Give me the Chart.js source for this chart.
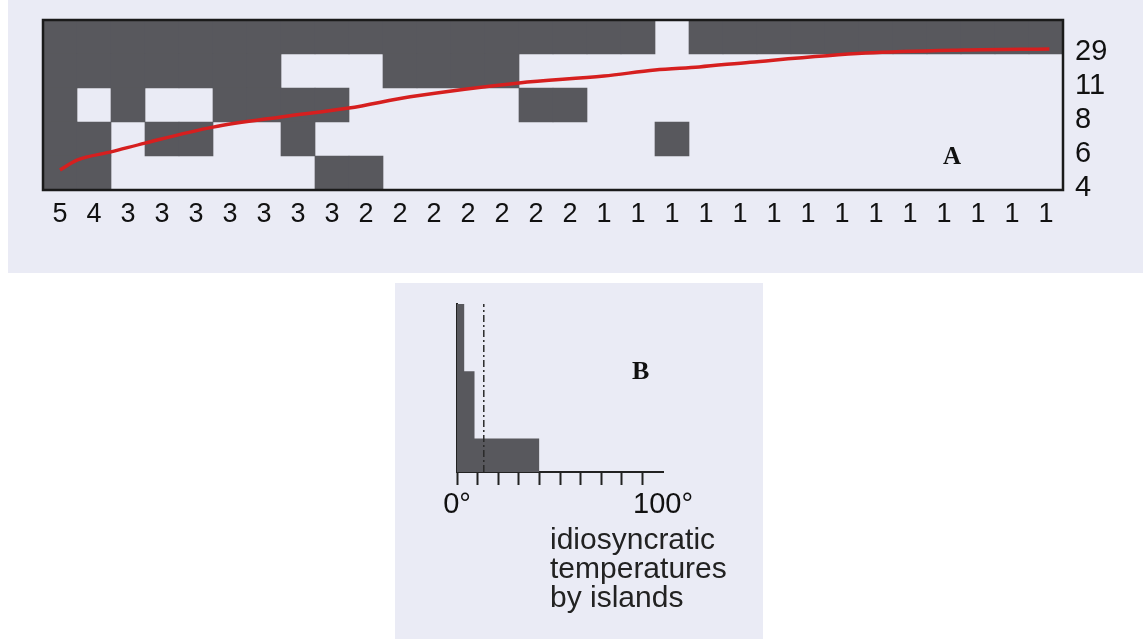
<!DOCTYPE html>
<html>
<head>
<meta charset="utf-8">
<script src="https://cdn.jsdelivr.net/npm/chart.js@4.4.1/dist/chart.umd.min.js"></script>
<style>
  body { margin: 0; background: #fff; width: 1143px; height: 639px; overflow: hidden; position: relative; font-family: "Liberation Sans", Arial, sans-serif; }
  #panelA { position: absolute; left: 8px; top: 0; width: 1135px; height: 273px; background: #eaebf5; }
  #panelB { position: absolute; left: 395px; top: 283px; width: 368px; height: 356px; background: #eaebf5; }
  canvas { position: absolute; left: 0; top: 0; }
  .tag { position: absolute; font: bold 25px "Liberation Serif", "Times New Roman", serif; line-height: 1; color: #111; }
  .caption { position: absolute; left: 155px; top: 241px; font-size: 30px; line-height: 29px; color: #222; }
</style>
</head>
<body>
<div id="panelA">
  <canvas id="chartA" width="1135" height="273"></canvas>
  <div class="tag" style="left:935px; top:143px;">A</div>
</div>
<div id="panelB">
  <canvas id="chartB" width="368" height="356"></canvas>
  <div class="tag" style="left:237px; top:75px; font-size:26px;">B</div>
  <div class="caption">idiosyncratic<br>temperatures<br>by islands</div>
</div>
<script>
// island columns: number of species on each island (bottom labels)
var colTotals = [5, 4, 3, 3, 3, 3, 3, 3, 3, 2, 2, 2, 2, 2, 2, 2, 1, 1, 1, 1, 1, 1, 1, 1, 1, 1, 1, 1, 1, 1];
// species rows, bottom to top: number of islands occupied (right labels)
var rowTotals = ['4', '6', '8', '11', '29'];

// presence (1) / absence (0) per island
var row29 = [1,1,1,1,1,1,1,1,1,1,1,1,1,1,1,1,1,1,0,1,1,1,1,1,1,1,1,1,1,1];
var row11 = [1,1,1,1,1,1,1,0,0,0,1,1,1,1,0,0,0,0,0,0,0,0,0,0,0,0,0,0,0,0];
var row8  = [1,0,1,0,0,1,1,1,1,0,0,0,0,0,1,1,0,0,0,0,0,0,0,0,0,0,0,0,0,0];
var row6  = [1,1,0,1,1,0,0,1,0,0,0,0,0,0,0,0,0,0,1,0,0,0,0,0,0,0,0,0,0,0];
var row4  = [1,1,0,0,0,0,0,0,1,1,0,0,0,0,0,0,0,0,0,0,0,0,0,0,0,0,0,0,0,0];
var rows = [row4, row6, row8, row11, row29];

// isocline (red curve), in column / row units
var isoX = [0.5, 1.0, 2.0, 3.0, 5.0, 7.0, 9.0, 10.8, 14.0, 16.5, 18.0, 19.3, 20.8, 24.2, 27.1, 29.6];
var isoY = [0.59, 0.88, 1.12, 1.38, 1.85, 2.15, 2.41, 2.74, 3.15, 3.35, 3.53, 3.62, 3.76, 4.03, 4.12, 4.15];

// panel B histogram
var binEdges = [0, 3.5, 8.5, 40];
var binCounts = [5, 3, 1];
var meanTemp = 13;
var tempTicks = ['0°', '', '', '', '', '', '', '', '', '', '100°'];

var cellColor = '#58585d';

var frame = {
  id: 'frame',
  afterDatasetsDraw: function (chart) {
    var a = chart.chartArea, c = chart.ctx;
    c.save();
    c.strokeStyle = '#1a1a1a';
    c.lineWidth = 2.5;
    c.strokeRect(a.left, a.top, a.right - a.left, a.bottom - a.top);
    c.restore();
  }
};

var cellSets = rows.map(function (r, i) {
  return {
    data: r.map(function (v) { return v ? [i, i + 1] : null; }),
    backgroundColor: cellColor,
    borderWidth: 0,
    barPercentage: 1,
    categoryPercentage: 1,
    grouped: false
  };
});

new Chart(document.getElementById('chartA'), {
  type: 'bar',
  data: {
    labels: colTotals.map(String),
    datasets: [{
      type: 'line',
      xAxisID: 'xl',
      yAxisID: 'y',
      data: isoX.map(function (x, i) { return { x: x, y: isoY[i] }; }),
      borderColor: '#d61f1f',
      borderWidth: 3.5,
      pointRadius: 0,
      cubicInterpolationMode: 'monotone',
      fill: false
    }].concat(cellSets)
  },
  options: {
    responsive: false,
    animation: false,
    devicePixelRatio: 1,
    layout: { padding: { left: 35, top: 20, right: 0, bottom: 0 } },
    plugins: { legend: { display: false }, tooltip: { enabled: false } },
    scales: {
      x: {
        position: 'bottom',
        grid: { display: false, drawTicks: false },
        border: { display: false },
        ticks: { color: '#111', font: { family: 'Liberation Sans', size: 27 }, padding: 8, autoSkip: false, maxRotation: 0 },
        afterFit: function (s) { s.height = 83; s.paddingLeft = 0; s.paddingRight = 0; }
      },
      xl: { type: 'linear', display: false, offset: false, min: 0, max: 30 },
      y: {
        position: 'right',
        min: 0, max: 5,
        grid: { display: false, drawTicks: false },
        border: { display: false },
        afterBuildTicks: function (s) { s.ticks = rowTotals.map(function (t, i) { return { value: i + 0.07 }; }); },
        ticks: {
          callback: function (v, i) { return rowTotals[i]; },
          color: '#111', font: { family: 'Liberation Sans', size: 29 }, padding: 12
        },
        afterFit: function (s) { s.width = 80; s.paddingTop = 0; s.paddingBottom = 0; }
      }
    }
  },
  plugins: [frame]
});

var histPts = binEdges.map(function (e, i) {
  return { x: e, y: binCounts[Math.min(i, binCounts.length - 1)] };
});

new Chart(document.getElementById('chartB'), {
  type: 'line',
  data: {
    datasets: [{
      data: [{ x: meanTemp, y: 0 }, { x: meanTemp, y: 5 }],
      borderColor: '#2a2a2a',
      borderWidth: 1.5,
      borderDash: [7, 3, 2, 3],
      pointRadius: 0,
      fill: false
    }, {
      data: histPts,
      stepped: 'before',
      fill: 'origin',
      backgroundColor: cellColor,
      borderWidth: 0,
      pointRadius: 0
    }]
  },
  options: {
    responsive: false,
    animation: false,
    devicePixelRatio: 1,
    layout: { padding: { left: 62, top: 21, right: 100, bottom: 107 } },
    plugins: { legend: { display: false }, tooltip: { enabled: false } },
    scales: {
      x: {
        type: 'linear', min: 0, max: 100,
        grid: {
          drawOnChartArea: false, drawTicks: true, tickLength: 13, tickWidth: 2,
          tickColor: function (ctx) { return ctx.tick && ctx.tick.value === 100 ? 'rgba(0,0,0,0)' : '#222'; }
        },
        border: { color: '#222', width: 2 },
        ticks: {
          stepSize: 10, autoSkip: false, maxRotation: 0,
          callback: function (v, i) { return tempTicks[i]; },
          color: '#111', font: { family: 'Liberation Sans', size: 29 }, padding: 3
        },
        afterFit: function (s) { s.height = 60; s.paddingLeft = 0; s.paddingRight = 0; }
      },
      y: {
        min: 0, max: 5,
        grid: { display: false, drawTicks: false },
        border: { color: '#222', width: 2 },
        ticks: { display: false },
        afterFit: function (s) { s.width = 0; s.paddingTop = 0; s.paddingBottom = 0; }
      }
    }
  }
});
</script>
</body>
</html>
